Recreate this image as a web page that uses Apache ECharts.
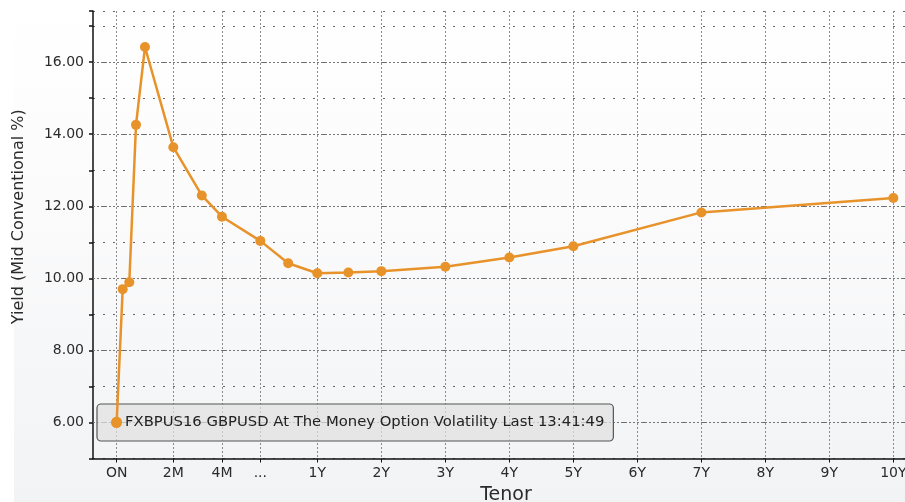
<!DOCTYPE html>
<html><head><meta charset="utf-8">
<script src="https://cdn.jsdelivr.net/npm/echarts@6/dist/echarts.min.js"></script>
<style>
html,body{margin:0;padding:0;background:#fff;}
#bg{position:absolute;left:14px;top:0;width:891px;height:502px;background:linear-gradient(to bottom,#ffffff 0%,#fbfbfc 40%,#f2f3f4 100%);}
#main{position:absolute;left:0;top:0;width:905px;height:502px;}
</style></head>
<body>
<div id="bg"></div>
<div id="main"></div>
<script>
// Data
const seriesName = 'FXBPUS16 GBPUSD At The Money Option Volatility Last 13:41:49';
const tenorNames = ['ON','1W','2W','3W','1M','2M','3M','4M','6M','9M','1Y','18M','2Y','3Y','4Y','5Y','7Y','10Y'];
const tenorPos   = [0, 0.094, 0.197, 0.302, 0.442, 0.885, 1.33, 1.645, 2.244, 2.68, 3.135, 3.62, 4.135, 5.135, 6.135, 7.135, 9.135, 12.135];
const yields     = [6.02, 9.70, 9.89, 14.26, 16.42, 13.64, 12.30, 11.71, 11.04, 10.42, 10.14, 10.16, 10.20, 10.32, 10.58, 10.89, 11.83, 12.23];
const tickLabels = ['ON','2M','4M','...','1Y','2Y','3Y','4Y','5Y','6Y','7Y','8Y','9Y','10Y'];
const tickPos    = [0, 0.885, 1.645, 2.244, 3.135, 4.135, 5.135, 6.135, 7.135, 8.135, 9.135, 10.135, 11.135, 12.135];
const majorY     = [6, 8, 10, 12, 14, 16];

const chart = echarts.init(document.getElementById('main'), null, {renderer:'canvas'});
const font = 'DejaVu Sans';
const txt = '#2b2b2b';
chart.setOption({
  backgroundColor: 'transparent',
  animation: false,
  textStyle: {fontFamily: font},
  grid: {left: 93, right: 0, top: 11, bottom: 43.5, containLabel: false, outerBoundsMode: 'none'},
  legend: {
    data: [seriesName],
    left: 97, top: 404,
    orient: 'horizontal',
    icon: 'circle',
    itemWidth: 11, itemHeight: 11, itemGap: 5,
    padding: [11, 9, 11, 14],
    backgroundColor: 'rgba(224,224,224,0.72)',
    borderColor: '#555',
    borderWidth: 1.2,
    borderRadius: 4,
    textStyle: {fontFamily: font, fontSize: 14.8, color: '#222', padding: [0,0,0,-2]},
    selectedMode: false
  },
  xAxis: {
    type: 'value',
    min: -0.37, max: 12.317,
    name: 'Tenor', nameLocation: 'middle', nameGap: 27,
    nameTextStyle: {fontFamily: font, fontSize: 19, color: txt, padding: [0, 0, 0, 14]},
    axisLine: {show: true, onZero: false, lineStyle: {color: '#111', width: 1.5}},
    axisTick: {show: true, customValues: tickPos, length: 4, lineStyle: {color: '#111'}},
    axisLabel: {
      customValues: tickPos, fontFamily: font, fontSize: 14, color: txt, margin: 8,
      formatter: function (v) {
        let best = 0, d = 1e9;
        tickPos.forEach(function (p, i) { if (Math.abs(p - v) < d) { d = Math.abs(p - v); best = i; } });
        return tickLabels[best];
      }
    },
    splitLine: {show: true, lineStyle: {color: '#8a8a8a', type: [2, 2], width: 1}}
  },
  yAxis: {
    type: 'value',
    min: 5, max: 17.42, interval: 1,
    name: 'Yield (Mid Conventional %)', nameLocation: 'middle', nameGap: 66,
    nameTextStyle: {fontFamily: font, fontSize: 16, color: txt, padding: [0, 0, 0, 36]},
    axisLine: {show: true, onZero: false, lineStyle: {color: '#111', width: 1.5}},
    axisTick: {show: true, length: 4, inside: false, lineStyle: {color: '#111', width: 1.5}},
    axisLabel: {
      fontFamily: font, fontSize: 14, color: txt, margin: 9,
      formatter: function (v) { return (Math.round(v) % 2 === 0) ? v.toFixed(2) : ''; }
    },
    splitLine: {show: true, lineStyle: {color: '#666', type: [2, 8], width: 1.2}}
  },
  series: [{
    name: seriesName,
    type: 'line',
    data: tenorPos.map(function (x, i) { return [x, yields[i]]; }),
    symbol: 'circle', symbolSize: 10,
    lineStyle: {color: '#E8922A', width: 2.5},
    itemStyle: {color: '#E8922A'},
    markLine: {
      silent: true, symbol: 'none', label: {show: false},
      lineStyle: {color: '#777', type: [2, 2], width: 1},
      data: majorY.map(function (v) { return {yAxis: v}; }),
      z: 1
    },
    z: 5
  }]
});
</script>
</body></html>
